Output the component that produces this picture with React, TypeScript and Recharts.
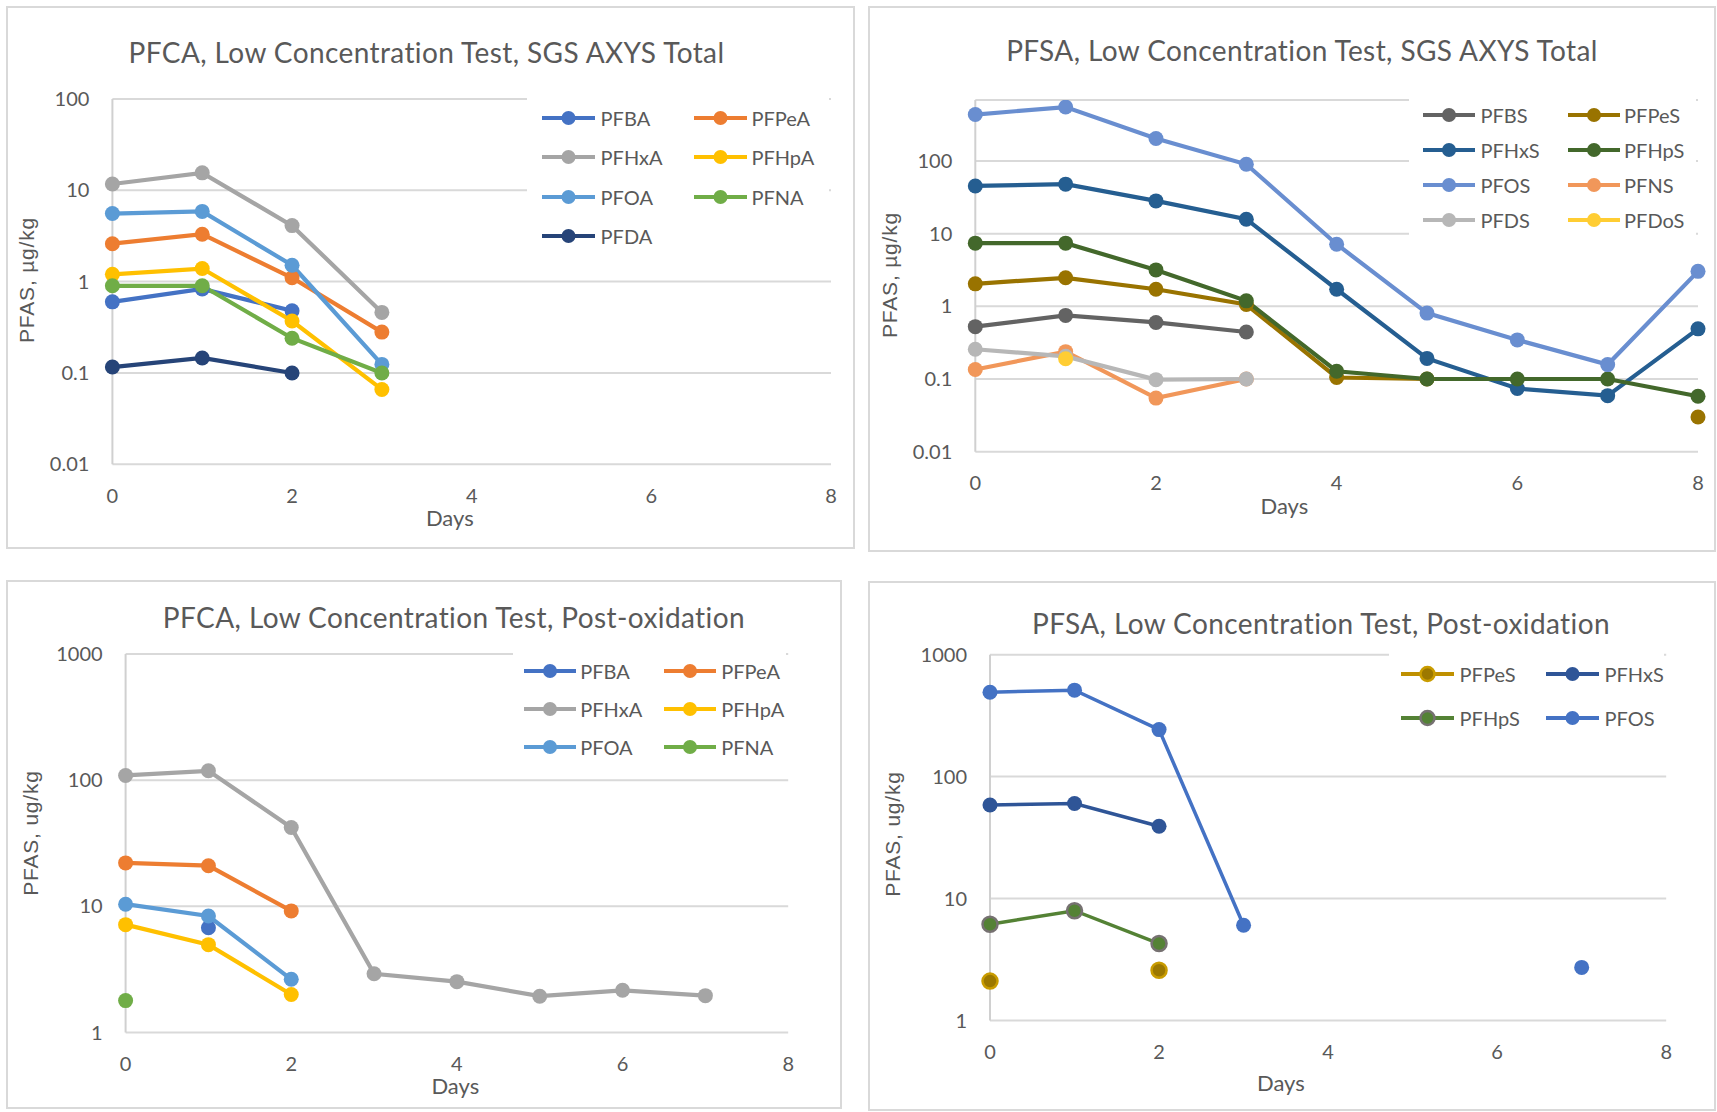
import React from 'react';
import { LineChart, Line, XAxis, YAxis, CartesianGrid, Legend } from 'recharts';

// ---------- data ----------
const days = [0, 1, 2, 3, 4, 5, 6, 7, 8];
const xTicks = [0, 2, 4, 6, 8];
const yTicksTotal = [0.01, 0.1, 1, 10, 100];
const yTicksPost = [1, 10, 100, 1000];

// PFCA, SGS AXYS Total
const pfcaTotalPFBA = [0.6, 0.83, 0.48, null, null, null, null, null, null];
const pfcaTotalPFPeA = [2.6, 3.3, 1.1, 0.28, null, null, null, null, null];
const pfcaTotalPFHxA = [11.7, 15.5, 4.1, 0.46, null, null, null, null, null];
const pfcaTotalPFHpA = [1.2, 1.39, 0.37, 0.066, null, null, null, null, null];
const pfcaTotalPFOA = [5.56, 5.87, 1.51, 0.124, null, null, null, null, null];
const pfcaTotalPFNA = [0.9, 0.9, 0.24, 0.1, null, null, null, null, null];
const pfcaTotalPFDA = [0.116, 0.146, 0.1, null, null, null, null, null, null];

// PFSA, SGS AXYS Total
const pfsaTotalPFBS = [0.525, 0.75, 0.6, 0.443, null, null, null, null, null];
const pfsaTotalPFPeS = [2.04, 2.47, 1.72, 1.06, 0.105, 0.1, null, null, 0.03];
const pfsaTotalPFHxS = [45.3, 48, 28.2, 15.8, 1.72, 0.192, 0.074, 0.059, 0.49];
const pfsaTotalPFHpS = [7.4, 7.4, 3.17, 1.19, 0.128, 0.1, 0.1, 0.1, 0.058];
const pfsaTotalPFOS = [435, 552, 204, 90, 7.16, 0.807, 0.345, 0.158, 3.03];
const pfsaTotalPFNS = [0.135, 0.238, 0.0546, 0.1, null, null, null, null, null];
const pfsaTotalPFDS = [0.257, 0.205, 0.098, 0.1, null, null, null, null, null];
const pfsaTotalPFDoS = [null, 0.19, null, null, null, null, null, null, null];

// PFCA, Post-oxidation
const pfcaPostPFBA = [null, 6.76, null, null, null, null, null, null, null];
const pfcaPostPFPeA = [22.1, 21.0, 9.2, null, null, null, null, null, null];
const pfcaPostPFHxA = [109, 118.6, 42.2, 2.92, 2.53, 1.94, 2.16, 1.96, null];
const pfcaPostPFHpA = [7.16, 4.97, 2.0, null, null, null, null, null, null];
const pfcaPostPFOA = [10.4, 8.38, 2.64, null, null, null, null, null, null];
const pfcaPostPFNA = [1.79, null, null, null, null, null, null, null, null];

// PFSA, Post-oxidation
const pfsaPostPFPeS = [2.1, null, 2.58, null, null, null, null, null, null];
const pfsaPostPFHxS = [58.5, 60.1, 39.1, null, null, null, null, null, null];
const pfsaPostPFHpS = [6.15, 7.94, 4.27, null, null, null, null, null, null];
const pfsaPostPFOS = [492, 512, 243, 6.04, null, null, null, 2.72, null];

// ---------- styles / layout ----------
const FONT = "Lato, 'Open Sans', sans-serif";
const LABEL_FONT = "'Liberation Sans', Arial, sans-serif";
const TXT = '#595959';

type SeriesDef = {
  name: string;
  values: (number | null)[];
  color: string;
  dotFill?: string;
  dotStroke?: string;
  dotStrokeWidth?: number;
};

type PanelDef = {
  rect: { x: number; y: number; w: number; h: number };
  plot: { l: number; r: number; t: number; b: number };
  title: string;
  titleX: number;
  titleY: number;
  yLabel: string;
  yLabelX: number;
  yLabelY: number;
  xLabelX: number;
  xLabelY: number;
  yDomain: [number, number];
  yTicks: number[];
  series: SeriesDef[];
  lineWidth: number;
  dotR: number;
  legend: { l: number; t: number; r: number; b: number; rows: number[]; lineX: number[]; lineLen: number; textX: number[] };
};

const panels: PanelDef[] = [
  {
    rect: { x: 6, y: 6, w: 849, h: 543 },
    plot: { l: 112.4, r: 831, t: 98.9, b: 464.3 },
    title: 'PFCA, Low Concentration Test, SGS AXYS Total',
    titleX: 426.5, titleY: 52.3,
    yLabel: 'PFAS, µg/kg', yLabelX: 26, yLabelY: 280,
    xLabelX: 449.8, xLabelY: 518.3,
    yDomain: [0.01, 100], yTicks: yTicksTotal,
    lineWidth: 4.2, dotR: 7.5,
    series: [
      { name: 'PFBA', values: pfcaTotalPFBA, color: '#4472c4' },
      { name: 'PFPeA', values: pfcaTotalPFPeA, color: '#ed7d31' },
      { name: 'PFHxA', values: pfcaTotalPFHxA, color: '#a5a5a5' },
      { name: 'PFHpA', values: pfcaTotalPFHpA, color: '#ffc000' },
      { name: 'PFOA', values: pfcaTotalPFOA, color: '#5b9bd5' },
      { name: 'PFNA', values: pfcaTotalPFNA, color: '#70ad47' },
      { name: 'PFDA', values: pfcaTotalPFDA, color: '#264478' },
    ],
    legend: { l: 526.6, t: 96, r: 829, b: 255, rows: [117.8, 157.1, 196.8, 235.7], lineX: [542, 693.9], lineLen: 53, textX: [600.6, 751.4] },
  },
  {
    rect: { x: 868, y: 6, w: 848, h: 546 },
    plot: { l: 975.3, r: 1698, t: 100, b: 451.7 },
    title: 'PFSA, Low Concentration Test, SGS AXYS Total',
    titleX: 1302, titleY: 49.5,
    yLabel: 'PFAS, µg/kg', yLabelX: 888.9, yLabelY: 275,
    xLabelX: 1284.4, xLabelY: 506,
    yDomain: [0.01, 690], yTicks: yTicksTotal,
    lineWidth: 4.2, dotR: 7.5,
    series: [
      { name: 'PFBS', values: pfsaTotalPFBS, color: '#636363' },
      { name: 'PFPeS', values: pfsaTotalPFPeS, color: '#997300' },
      { name: 'PFHxS', values: pfsaTotalPFHxS, color: '#255e91' },
      { name: 'PFHpS', values: pfsaTotalPFHpS, color: '#43682b' },
      { name: 'PFOS', values: pfsaTotalPFOS, color: '#698ed0' },
      { name: 'PFNS', values: pfsaTotalPFNS, color: '#f1975a' },
      { name: 'PFDS', values: pfsaTotalPFDS, color: '#b7b7b7' },
      { name: 'PFDoS', values: pfsaTotalPFDoS, color: '#ffcd33' },
    ],
    legend: { l: 1409.3, t: 98, r: 1696, b: 250, rows: [115, 150, 185, 220], lineX: [1423, 1567.8], lineLen: 52, textX: [1480.4, 1624.1] },
  },
  {
    rect: { x: 6, y: 580, w: 836, h: 529 },
    plot: { l: 125.6, r: 788.2, t: 654, b: 1032.5 },
    title: 'PFCA, Low Concentration Test, Post-oxidation',
    titleX: 453.9, titleY: 617.2,
    yLabel: 'PFAS, ug/kg', yLabelX: 29.7, yLabelY: 832.8,
    xLabelX: 455.3, xLabelY: 1085.5,
    yDomain: [1, 1000], yTicks: yTicksPost,
    lineWidth: 4.2, dotR: 7.5,
    series: [
      { name: 'PFBA', values: pfcaPostPFBA, color: '#4472c4' },
      { name: 'PFPeA', values: pfcaPostPFPeA, color: '#ed7d31' },
      { name: 'PFHxA', values: pfcaPostPFHxA, color: '#a5a5a5' },
      { name: 'PFHpA', values: pfcaPostPFHpA, color: '#ffc000' },
      { name: 'PFOA', values: pfcaPostPFOA, color: '#5b9bd5' },
      { name: 'PFNA', values: pfcaPostPFNA, color: '#70ad47' },
    ],
    legend: { l: 512.9, t: 651, r: 786, b: 768, rows: [671, 709.3, 747.3], lineX: [523.8, 663.7], lineLen: 52, textX: [580.3, 721.3] },
  },
  {
    rect: { x: 868, y: 581, w: 848, h: 530 },
    plot: { l: 990, r: 1666.2, t: 654.7, b: 1020.4 },
    title: 'PFSA, Low Concentration Test, Post-oxidation',
    titleX: 1321, titleY: 623,
    yLabel: 'PFAS, ug/kg', yLabelX: 892.3, yLabelY: 833.6,
    xLabelX: 1280.9, xLabelY: 1083.3,
    yDomain: [1, 1000], yTicks: yTicksPost,
    lineWidth: 3.5, dotR: 7.5,
    series: [
      { name: 'PFPeS', values: pfsaPostPFPeS, color: '#bf9000', dotFill: '#9c7800', dotStroke: '#c99c00', dotStrokeWidth: 2.5 },
      { name: 'PFHxS', values: pfsaPostPFHxS, color: '#2f5597' },
      { name: 'PFHpS', values: pfsaPostPFHpS, color: '#548235', dotFill: '#548235', dotStroke: '#767171', dotStrokeWidth: 2.5 },
      { name: 'PFOS', values: pfsaPostPFOS, color: '#4472c4' },
    ],
    legend: { l: 1389, t: 651.5, r: 1664, b: 745, rows: [674.4, 718], lineX: [1401, 1546], lineLen: 53, textX: [1459.6, 1604.5] },
  },
];

function LegendBox({ p }: { p: PanelDef }) {
  const lg = p.legend;
  const lw = lg.r - lg.l;
  const lh = lg.b - lg.t;
  return (
    <div style={{ position: 'relative', width: lw, height: lh, background: '#fff' }}>
      {p.series.map((s, k) => {
        const row = Math.floor(k / 2);
        const col = k % 2;
        const cy = lg.rows[row] - lg.t;
        const r = Math.max(p.dotR - 0.5, 6);
        return (
          <React.Fragment key={s.name}>
            <svg
              width={lg.lineLen}
              height={24}
              style={{ position: 'absolute', left: lg.lineX[col] - lg.l, top: cy - 12, overflow: 'visible' }}
            >
              <line x1={0} y1={12} x2={lg.lineLen} y2={12} stroke={s.color} strokeWidth={4} />
              <circle
                cx={lg.lineLen / 2}
                cy={12}
                r={r}
                fill={s.dotFill ?? s.color}
                stroke={s.dotStroke ?? s.color}
                strokeWidth={s.dotStrokeWidth ?? 0}
              />
            </svg>
            <div
              style={{
                position: 'absolute',
                left: lg.textX[col] - lg.l,
                top: cy - 12,
                height: 24,
                lineHeight: '24px',
                fontFamily: FONT,
                fontSize: 20,
                color: TXT,
                whiteSpace: 'nowrap',
              }}
            >
              {s.name}
            </div>
          </React.Fragment>
        );
      })}
    </div>
  );
}

function Panel({ p }: { p: PanelDef }) {
  const YW = 70;
  const XH = 40;
  const margin = {
    left: p.plot.l - p.rect.x - YW,
    right: p.rect.x + p.rect.w - p.plot.r,
    top: p.plot.t - p.rect.y,
    bottom: p.rect.y + p.rect.h - p.plot.b - XH,
  };
  const rows = days.map((d, i) => {
    const o: Record<string, number | null> = { day: d };
    p.series.forEach((s, k) => {
      o['s' + k] = s.values[i];
    });
    return o;
  });
  const lg = p.legend;
  return (
    <div style={{ position: 'absolute', left: p.rect.x, top: p.rect.y, width: p.rect.w, height: p.rect.h, background: '#fff' }}>
      <LineChart width={p.rect.w} height={p.rect.h} data={rows} margin={margin}>
        <CartesianGrid vertical={false} stroke="#d9d9d9" strokeWidth={2} />
        <XAxis
          type="number"
          dataKey="day"
          domain={[0, 8]}
          ticks={xTicks}
          interval={0}
          axisLine={false}
          tickLine={false}
          tickSize={0}
          tickMargin={24}
          height={XH}
          tick={{ fill: TXT, fontSize: 20, fontFamily: FONT }}
        />
        <YAxis
          type="number"
          scale="log"
          domain={p.yDomain}
          ticks={p.yTicks}
          interval={0}
          allowDataOverflow
          width={YW}
          axisLine={{ stroke: '#d0d0d0', strokeWidth: 2 }}
          tickLine={false}
          tickSize={0}
          tickMargin={23}
          tick={{ fill: TXT, fontSize: 20, fontFamily: FONT }}
          tickFormatter={(v: number) => String(v)}
        />
        <Legend
          layout="vertical"
          align="center"
          verticalAlign="middle"
          wrapperStyle={{
            left: lg.l - p.rect.x,
            top: lg.t - p.rect.y,
            width: lg.r - lg.l,
            height: lg.b - lg.t,
            background: '#fff',
          }}
          content={() => <LegendBox p={p} />}
        />
        {p.series.map((s, k) => (
          <Line
            key={s.name}
            type="linear"
            dataKey={'s' + k}
            name={s.name}
            stroke={s.color}
            strokeWidth={p.lineWidth}
            dot={{
              r: p.dotR,
              fill: s.dotFill ?? s.color,
              stroke: s.dotStroke ?? s.color,
              strokeWidth: s.dotStrokeWidth ?? 0,
            }}
            activeDot={false}
            connectNulls={false}
            isAnimationActive={false}
          />
        ))}
      </LineChart>
      <div
        style={{
          position: 'absolute',
          left: 0,
          top: 0,
          width: p.rect.w,
          height: p.rect.h,
          border: '2px solid #d9d9d9',
          boxSizing: 'border-box',
          pointerEvents: 'none',
        }}
      />
    </div>
  );
}

function Texts({ p }: { p: PanelDef }) {
  const base: React.CSSProperties = {
    position: 'absolute',
    whiteSpace: 'nowrap',
    color: TXT,
    lineHeight: 1,
    transform: 'translate(-50%, -50%)',
  };
  return (
    <>
      <div style={{ ...base, left: p.titleX, top: p.titleY, fontFamily: FONT, fontSize: 28, letterSpacing: 0.4 }}>{p.title}</div>
      <div style={{ ...base, left: p.xLabelX, top: p.xLabelY, fontFamily: FONT, fontSize: 22 }}>Days</div>
      <div
        style={{
          ...base,
          left: p.yLabelX,
          top: p.yLabelY,
          fontFamily: LABEL_FONT,
          fontSize: 21,
          letterSpacing: 0.8,
          transform: 'translate(-50%, -50%) rotate(-90deg)',
        }}
      >
        {p.yLabel}
      </div>
    </>
  );
}

export default function App() {
  return (
    <div style={{ position: 'absolute', left: 0, top: 0, width: 1717, height: 1112, background: '#fff', overflow: 'hidden' }}>
      {panels.map((p, i) => (
        <Panel key={i} p={p} />
      ))}
      {panels.map((p, i) => (
        <Texts key={'t' + i} p={p} />
      ))}
    </div>
  );
}
